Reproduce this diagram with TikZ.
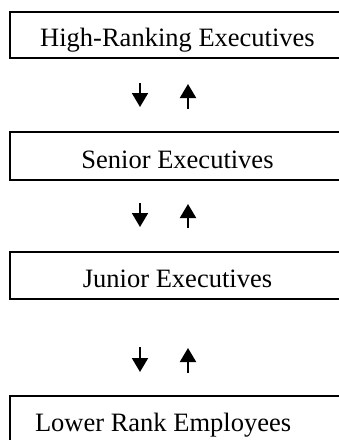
\documentclass[tikz,border=0pt]{standalone}
\usepackage{fontspec}
\setmainfont{Liberation Serif}
\usetikzlibrary{arrows.meta}
\begin{document}
\begin{tikzpicture}[x=1pt,y=-1pt,
  levelbox/.style={draw, line width=1.6pt, anchor=north west, outer sep=0pt,
    inner xsep=0pt, inner ysep=0pt, minimum width=335pt,
    font=\fontsize{26.5}{30}\selectfont, text depth=12pt},
  flow/.style={-{Triangle[width=16pt,length=14pt]}, line width=2pt}]
\useasboundingbox (0,0) rectangle (339,440);
\clip (0,0) rectangle (339,440);
\node[levelbox, text height=34pt] (high) at (10,12) {High-Ranking Executives};
\node[levelbox, text height=36pt] (senior) at (10,132) {Senior Executives};
\node[levelbox, text height=35pt] (junior) at (10,252) {Junior Executives};
\node[levelbox, text height=35pt, text depth=14pt, inner xsep=25pt]
  (lower) at (10,396) {\makebox[310pt][l]{Lower Rank Employees}};
% arrows between levels
\coordinate (d1a) at (140,83);  \coordinate (d1b) at (140,107);
\coordinate (u1a) at (188,109); \coordinate (u1b) at (188,84);
\coordinate (d2a) at (140,203); \coordinate (d2b) at (140,227);
\coordinate (u2a) at (188,228); \coordinate (u2b) at (188,204);
\coordinate (d3a) at (140,347); \coordinate (d3b) at (140,372);
\coordinate (u3a) at (188,373); \coordinate (u3b) at (188,348);
\draw[flow] (d1a) -- (d1b);
\draw[flow] (u1a) -- (u1b);
\draw[flow] (d2a) -- (d2b);
\draw[flow] (u2a) -- (u2b);
\draw[flow] (d3a) -- (d3b);
\draw[flow] (u3a) -- (u3b);
\end{tikzpicture}
\end{document}
